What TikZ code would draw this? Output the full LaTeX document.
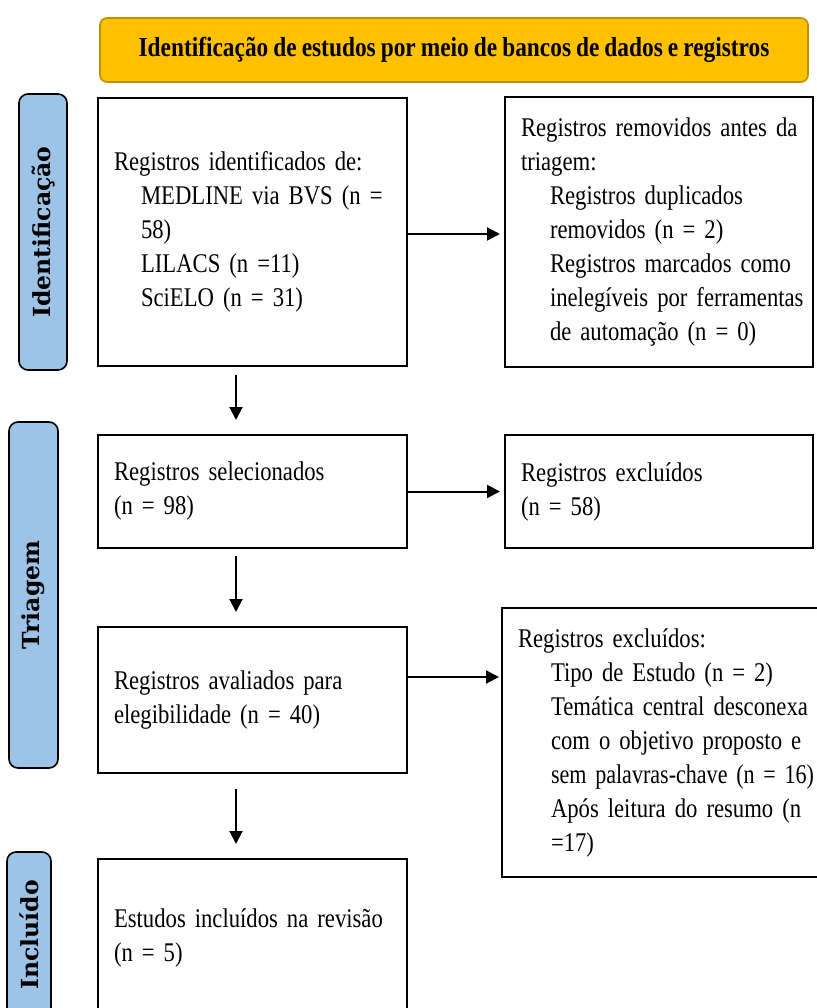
\documentclass[tikz,border=0pt]{standalone}
\usepackage{fontspec}
\usepackage{graphicx}
\setmainfont{Liberation Serif}
\newfontfamily\bodyfont[FakeStretch=0.84]{Liberation Serif}
\newfontfamily\headfont[FakeStretch=0.85]{Liberation Serif}
\newfontfamily\sidefont{DejaVu Serif}
\usetikzlibrary{arrows.meta}
\definecolor{hdrfill}{HTML}{FFC000}
\definecolor{hdrline}{HTML}{BF9000}
\definecolor{barfill}{HTML}{9DC3E6}
\newcommand\jl[2]{\makebox[#1][s]{#2}}
\newcommand\ind[2]{\mbox{\hspace*{#1}#2}}
\newcommand\fitw[2]{\resizebox{#1}{\height}{#2}}
\newcommand\bodysetup{\bodyfont\fontsize{27}{34}\selectfont\spaceskip 4.6pt plus 6pt minus 1pt\relax}
\newcommand\headsetup{\headfont\bfseries\fontsize{27.5}{30}\selectfont\spaceskip 5pt\relax}
\tikzset{
  flowbox/.style={draw=black, line width=2pt, rectangle, align=left,
    inner xsep=16pt, inner ysep=0pt, font=\bodysetup},
  header/.style={draw=hdrline, fill=hdrfill, line width=1.6pt, rounded corners=7pt,
    minimum width=708pt, minimum height=64pt, font=\headsetup},
  sidebar/.style={draw=black, fill=barfill, line width=1.6pt, rounded corners=9pt,
    rotate=90, font=\sidefont\bfseries\fontsize{23.5}{26}\selectfont},
  arr/.style={line width=2pt, -{Triangle[length=13pt,width=13pt]}}
}
\begin{document}
\begin{tikzpicture}[x=1pt,y=-1pt]
\useasboundingbox (0,0) rectangle (816,1008);

\node[header] (hdr) at (454,50) {Identificação de estudos por meio de bancos de dados e registros};

\node[sidebar, minimum width=276pt, minimum height=48pt] (s1) at (43,232) {Identificação};
\node[sidebar, minimum width=346pt, minimum height=49pt] (s2) at (33.5,595) {Triagem};
\node[sidebar, minimum width=166pt, minimum height=44pt] (s3) at (29,935) {Incluído};

\node[flowbox, minimum width=309pt, minimum height=267pt, text width=277pt] (b1) at (252.5,232)
 {\mbox{Registros identificados de:}\\
  \ind{27pt}{MEDLINE via BVS (n =}\\
  \ind{27pt}{58)}\\
  \ind{27pt}{LILACS (n =11)}\\
  \ind{27pt}{SciELO (n = 31)}};

\node[flowbox, minimum width=308pt, minimum height=270pt, text width=276pt] (b2) at (659,232)
 {\mbox{Registros removidos antes da}\\
  triagem:\\
  \ind{29pt}{Registros duplicados}\\
  \ind{29pt}{removidos (n = 2)}\\
  \ind{29pt}{\jl{247pt}{Registros marcados como}}\\
  \ind{29pt}{inelegíveis por ferramentas}\\
  \ind{29pt}{de automação (n = 0)}};

\node[flowbox, minimum width=309pt, minimum height=113pt, text width=277pt] (b3) at (252.5,491.5)
 {Registros selecionados\\(n = 98)};

\node[flowbox, minimum width=308pt, minimum height=113pt, text width=276pt] (b4) at (659,491.5)
 {Registros excluídos\\(n = 58)};

\node[flowbox, minimum width=309pt, minimum height=146pt, text width=277pt] (b5) at (252.5,700)
 {\jl{276pt}{Registros avaliados para}\\elegibilidade (n = 40)};

\node[flowbox, minimum width=326pt, minimum height=269pt, text width=294pt] (b6) at (665,742.5)
 {Registros excluídos:\\
  \ind{33pt}{Tipo de Estudo (n = 2)}\\
  \ind{33pt}{\jl{263pt}{Temática central desconexa}}\\
  \ind{33pt}{\jl{263pt}{com o objetivo proposto e}}\\
  \ind{33pt}{\fitw{263pt}{sem palavras-chave (n = 16)}}\\
  \ind{33pt}{\jl{263pt}{Após leitura do resumo (n}}\\
  \ind{33pt}{=17)}};

\node[flowbox, minimum width=309pt, minimum height=158pt, text width=277pt] (b7) at (252.5,938)
 {Estudos incluídos na revisão\\(n = 5)};

\coordinate (c12) at ([yshift=-2pt]b1.east);
\draw[arr] (c12) -- ([xshift=-4pt]c12 -| b2.west);
\coordinate (c34) at (b3.east);
\draw[arr] (c34) -- ([xshift=-4pt]c34 -| b4.west);
\coordinate (c56) at ([yshift=23pt]b5.east);
\draw[arr] (c56) -- ([xshift=-2pt]c56 -| b6.west);

\coordinate (d13) at ([xshift=-16.5pt,yshift=-8pt]b1.south);
\draw[arr] (d13) -- ([yshift=14pt]d13 |- b3.north);
\coordinate (d35) at ([xshift=-16.5pt,yshift=-7pt]b3.south);
\draw[arr] (d35) -- ([yshift=14pt]d35 |- b5.north);
\coordinate (d57) at ([xshift=-16.5pt,yshift=-15pt]b5.south);
\draw[arr] (d57) -- ([yshift=14pt]d57 |- b7.north);
\end{tikzpicture}
\end{document}
